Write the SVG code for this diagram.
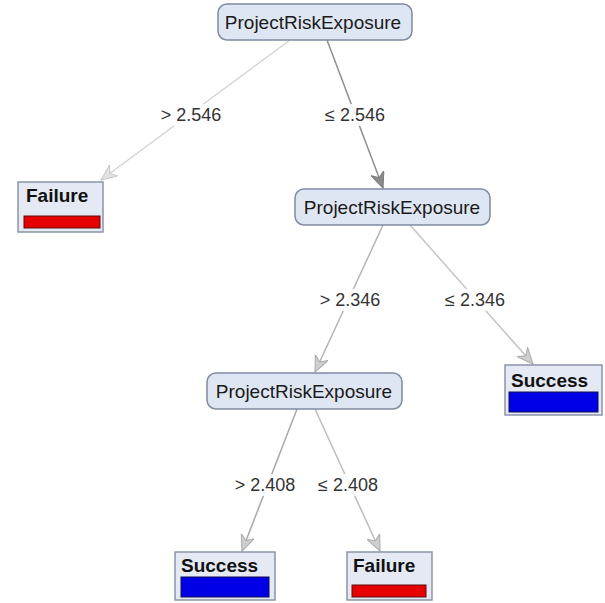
<svg xmlns="http://www.w3.org/2000/svg" width="605" height="603" viewBox="0 0 605 603">
<style>
.node rect{fill:#dfe6f3;stroke:#7f8ba0;stroke-width:1.5}
.node text{font-family:"Liberation Sans",Arial,sans-serif;font-size:19px;fill:#1a1a1a;text-anchor:middle}
.leaf rect.box{fill:#e4e9f4;stroke:#8a94a8;stroke-width:1.5}
.leaf text{font-family:"Liberation Sans",Arial,sans-serif;font-size:19px;font-weight:bold;fill:#111}
.bar-r{fill:#e60000;stroke:#5a1010;stroke-width:1}
.bar-b{fill:#0000e6;stroke:#101050;stroke-width:1}
.lbl{font-family:"Liberation Sans",Arial,sans-serif;font-size:18px;fill:#333;text-anchor:middle}
.lblbg{fill:#ffffff;opacity:0.85}
.e{fill:none;stroke-width:1.5}
</style>
<defs>
<marker id="a1" markerUnits="userSpaceOnUse" markerWidth="18" markerHeight="16" refX="16" refY="7" orient="auto">
<path d="M0,0 L16,7 L0,14 L5,7 z" fill="#e2e2e2" stroke="#c8c8c8" stroke-width="1"/>
</marker>
<marker id="a2" markerUnits="userSpaceOnUse" markerWidth="18" markerHeight="16" refX="16" refY="7" orient="auto">
<path d="M0,0 L16,7 L0,14 L5,7 z" fill="#8a8a8a" stroke="#7a7a7a" stroke-width="1"/>
</marker>
<marker id="a3" markerUnits="userSpaceOnUse" markerWidth="18" markerHeight="16" refX="16" refY="7" orient="auto">
<path d="M0,0 L16,7 L0,14 L5,7 z" fill="#cfcfcf" stroke="#aaaaaa" stroke-width="1"/>
</marker>
</defs>
<rect width="605" height="603" fill="#ffffff"/>
<g id="connectors">
<line class="e" x1="290" y1="40" x2="101" y2="180" stroke="#d4d4d4" marker-end="url(#a1)"/>
<line class="e" x1="327" y1="40" x2="383" y2="188" stroke="#8e8e8e" marker-end="url(#a2)"/>
<line class="e" x1="383" y1="225" x2="315" y2="372" stroke="#b4b4b4" marker-end="url(#a3)"/>
<line class="e" x1="410" y1="225" x2="533" y2="364" stroke="#c4c4c4" marker-end="url(#a3)"/>
<line class="e" x1="297" y1="409" x2="242" y2="551" stroke="#a8a8a8" marker-end="url(#a3)"/>
<line class="e" x1="315" y1="409" x2="380" y2="551" stroke="#bdbdbd" marker-end="url(#a3)"/>
<rect class="lblbg" x="158" y="104" width="66" height="22"/>
<text class="lbl" x="191" y="121">&gt; 2.546</text>
<rect class="lblbg" x="321" y="104" width="68" height="22"/>
<text class="lbl" x="355" y="121">≤ 2.546</text>
<rect class="lblbg" x="317" y="289" width="66" height="22"/>
<text class="lbl" x="350" y="306">&gt; 2.346</text>
<rect class="lblbg" x="441" y="289" width="68" height="22"/>
<text class="lbl" x="475" y="306">≤ 2.346</text>
<rect class="lblbg" x="232" y="474" width="66" height="22"/>
<text class="lbl" x="265" y="491">&gt; 2.408</text>
<rect class="lblbg" x="314" y="474" width="68" height="22"/>
<text class="lbl" x="348" y="491">≤ 2.408</text>
</g>
<g id="root" class="node">
<rect x="218" y="4" width="194" height="36" rx="9"/>
<text x="313" y="29">ProjectRiskExposure</text>
</g>
<g id="node2" class="node">
<rect x="295" y="189" width="195" height="36" rx="9"/>
<text x="392" y="214">ProjectRiskExposure</text>
</g>
<g id="node3" class="node">
<rect x="207" y="373" width="195" height="36" rx="9"/>
<text x="304" y="398">ProjectRiskExposure</text>
</g>
<g id="leaf-failure-1" class="leaf">
<rect class="box" x="18" y="182" width="85" height="50"/>
<text x="26" y="202">Failure</text>
<rect class="bar-r" x="24" y="216" width="76" height="12"/>
</g>
<g id="leaf-success-1" class="leaf">
<rect class="box" x="505" y="365" width="97" height="50"/>
<text x="511" y="387">Success</text>
<rect class="bar-b" x="509" y="392" width="89" height="20"/>
</g>
<g id="leaf-success-2" class="leaf">
<rect class="box" x="175" y="552" width="100" height="48"/>
<text x="181" y="572">Success</text>
<rect class="bar-b" x="181" y="577" width="88" height="20"/>
</g>
<g id="leaf-failure-2" class="leaf">
<rect class="box" x="347" y="552" width="85" height="48"/>
<text x="353" y="572">Failure</text>
<rect class="bar-r" x="352" y="585" width="74" height="12"/>
</g>
</svg>
